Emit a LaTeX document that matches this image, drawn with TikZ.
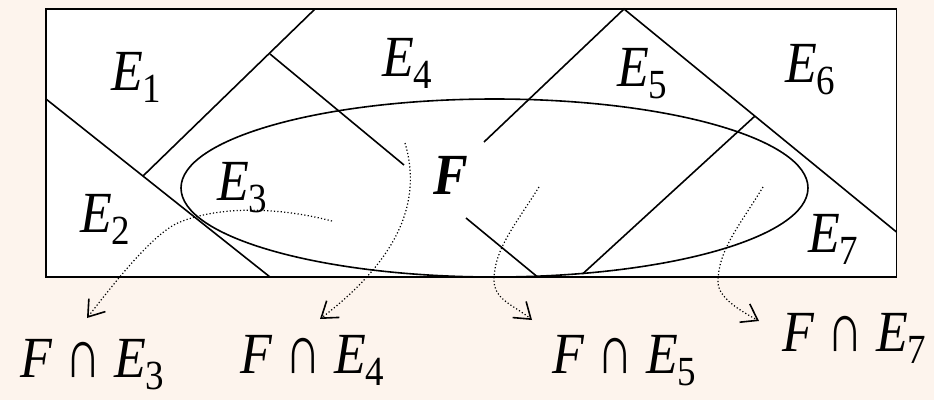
\documentclass[tikz,border=0pt]{standalone}
\usepackage{fontspec}
\setmainfont{Liberation Serif}
\usetikzlibrary{arrows.meta}
\definecolor{bgpeach}{RGB}{253,244,237}
\newcommand\Esb[1]{\textit{E}\raisebox{-11pt}{\fontsize{37}{37}\selectfont #1}}
\newcommand\capsym{\scalebox{0.95}[1.2]{∩}}
\newcommand\FcapE[1]{\textit{F} \capsym{} \Esb{#1}}
\newcommand\tallt[1]{\scalebox{1}[1.12]{#1}}
\begin{document}
\begin{tikzpicture}[x=1pt,y=-1pt,
  edge/.style={line width=1.6pt},
  lab/.style={inner sep=0pt, anchor=base west, font=\fontsize{52}{52}\selectfont},
  arr/.style={line width=1.2pt, dash pattern=on 1.2pt off 2.2pt,
    -{Straight Barb[length=15pt,width=21pt,line width=1.6pt]}}]
\fill[bgpeach] (0,0) rectangle (934,400);
\useasboundingbox (0,0) rectangle (934,400);
% frame
\draw[edge, fill=white] (46,9) rectangle (896.5,277);
% partition lines
\coordinate (a1) at (46,99);   \coordinate (a2) at (270,277);
\coordinate (b1) at (143,176); \coordinate (b2) at (315,9);
\coordinate (c1) at (270,54);  \coordinate (c2) at (404,165);
\coordinate (d1) at (484,142); \coordinate (d2) at (624,9);
\coordinate (e2) at (896.5,232);
\coordinate (f1) at (755,116); \coordinate (f2) at (582.5,274);
\coordinate (g1) at (466,218); \coordinate (g2) at (537,276.5);
\draw[edge] (a1) -- (a2);
\draw[edge] (b1) -- (b2);
\draw[edge] (c1) -- (c2);
\draw[edge] (d1) -- (d2) -- (e2);
\draw[edge] (f1) -- (f2);
\draw[edge] (g1) -- (g2);
% ellipse F
\draw[edge] (494.5,188) ellipse [x radius=313.5, y radius=89];
% region labels
\node[lab] (lE1) at (111,90)  {\tallt{\Esb{1}}};
\node[lab] (lE2) at (80,232)  {\tallt{\Esb{2}}};
\node[lab] (lE3) at (217,200) {\tallt{\Esb{3}}};
\node[lab] (lE4) at (382,76)  {\tallt{\Esb{4}}};
\node[lab] (lE5) at (617,86)  {\tallt{\Esb{5}}};
\node[lab] (lE6) at (785,82)  {\tallt{\Esb{6}}};
\node[lab] (lE7) at (808,252) {\tallt{\Esb{7}}};
\node[lab] (lF)  at (433,194) {\tallt{\textbf{\textit{F}}}};
% intersection labels
\node[lab] (i3) at (20,377)  {\tallt{\FcapE{3}}};
\node[lab] (i4) at (240,373) {\tallt{\FcapE{4}}};
\node[lab] (i5) at (552,373) {\tallt{\FcapE{5}}};
\node[lab] (i7) at (782,351) {\tallt{\FcapE{7}}};
% dotted arrows
\coordinate (s3) at (332,221); \coordinate (t3) at (87,318);
\coordinate (s4) at (405,143); \coordinate (t4) at (320,319);
\coordinate (s5) at (539,187); \coordinate (t5) at (532,320);
\coordinate (s7) at (763,187); \coordinate (t7) at (759,321);
\draw[arr] (s3) .. controls (270,205) and (215,208) .. (180,222)
           .. controls (152,233) and (109,290) .. (t3);
\draw[arr] (s4) .. controls (422,200) and (400,258) .. (t4);
\draw[arr] (s5) .. controls (515,225) and (494,250) .. (494,280)
           .. controls (494,300) and (514,305) .. (t5);
\draw[arr] (s7) .. controls (740,225) and (718,250) .. (718,282)
           .. controls (718,298) and (741,311) .. (t7);
\end{tikzpicture}
\end{document}
